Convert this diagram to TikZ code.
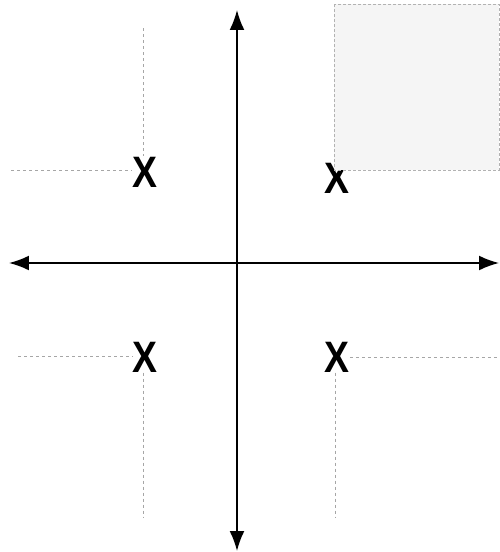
\documentclass[tikz,border=0pt]{standalone}
\usepackage{fontspec}
\setmainfont{Liberation Sans}[BoldFont={Liberation Sans Bold}]
\usetikzlibrary{arrows.meta}

\begin{document}
\begin{tikzpicture}[x=0.5pt, y=-0.5pt,
      axis/.style={{Latex[length=3.5mm,width=2.6mm]}-{Latex[length=3.5mm,width=2.6mm]}, line width=.8pt},
      guide/.style={gray!70, line width=.4pt, dash pattern=on 1.5pt off 1.5pt},
      xmark/.style={font=\fontsize{22}{22}\selectfont\bfseries, inner sep=0pt, xscale=.85}]
    \useasboundingbox (0,0) rectangle (499,552);
    % axes
    \coordinate (top) at (237,10);
    \coordinate (bottom) at (237,551);
    \coordinate (left) at (9,263);
    \coordinate (right) at (499,263);
    \draw[axis] (top) -- (bottom);
    \draw[axis] (left) -- (right);
    % marks
    \node[xmark] (ul) at (145,172) {X};
    \node[xmark] (ur) at (337,178) {X};
    \node[xmark] (ll) at (145,357) {X};
    \node[xmark] (lr) at (337,357) {X};
    % shaded quadrant, over the mark
    \filldraw[fill=gray!8, draw=gray!60, line width=.4pt, dash pattern=on 1.5pt off 1pt]
      (334,4) rectangle (499,170);
    % guide lines
    \coordinate (ulTop) at (143,28);
    \coordinate (ulLeft) at (11,170);
    \coordinate (llLeft) at (18,356);
    \coordinate (llBottom) at (143,518);
    \coordinate (lrRight) at (499,357);
    \coordinate (lrBottom) at (335,518);
    \draw[guide] (ulTop) -- (ulTop |- ul.north);
    \draw[guide] (ulLeft) -- (ul.west |- ulLeft);
    \draw[guide] (llLeft) -- (ll.west |- llLeft);
    \draw[guide] (llBottom |- ll.south) -- (llBottom);
    \draw[guide] (lr.east |- lrRight) -- (lrRight);
    \draw[guide] (lrBottom |- lr.south) -- (lrBottom);
  \end{tikzpicture}
\end{document}
